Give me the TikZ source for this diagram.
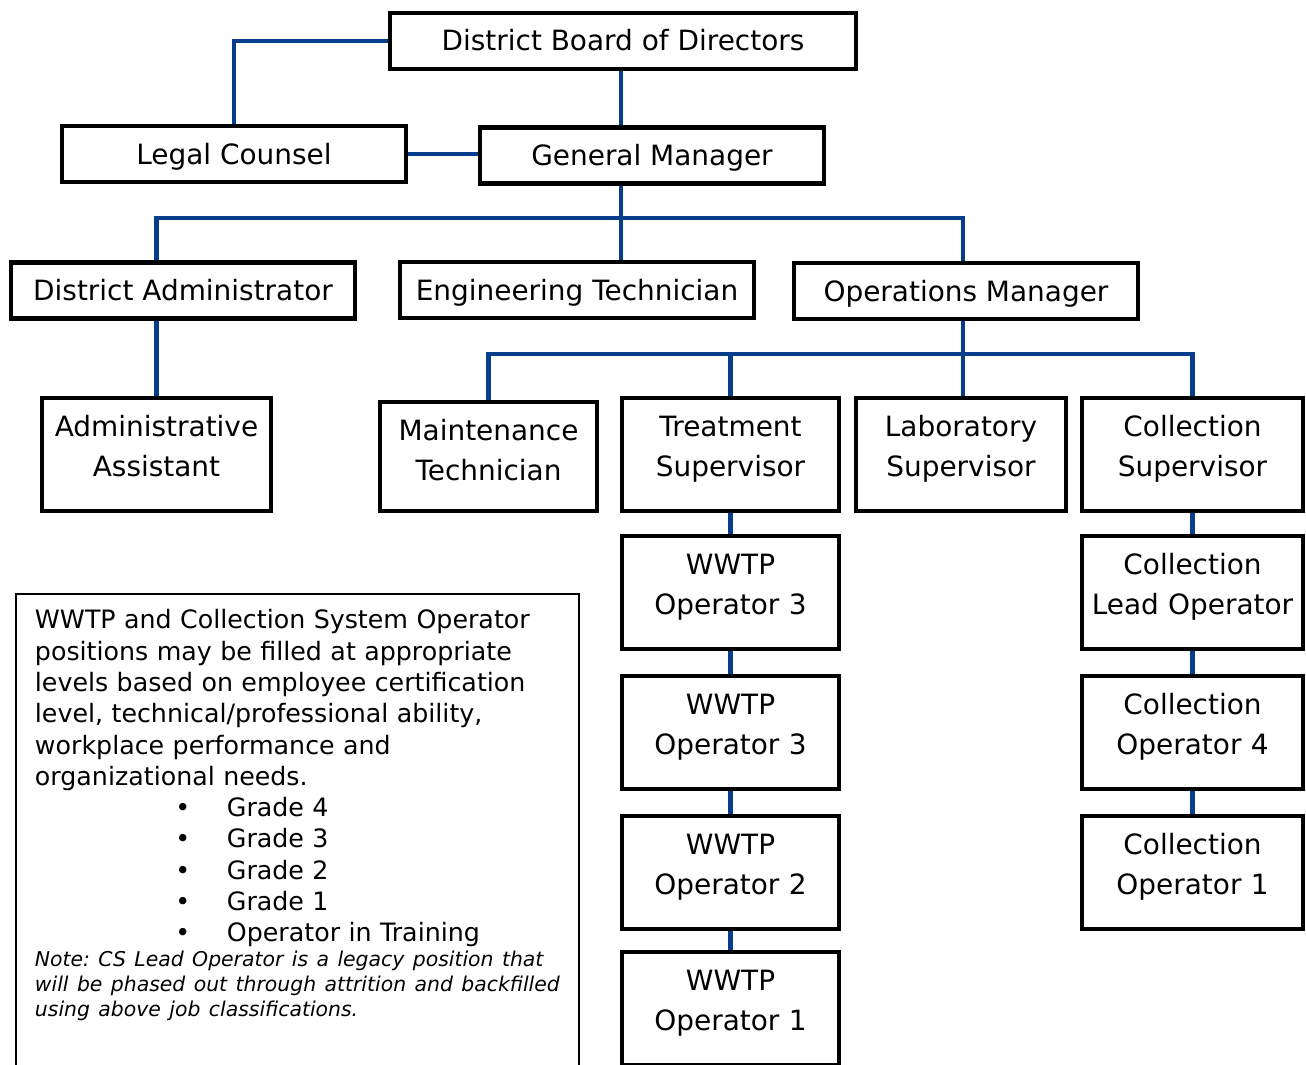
\documentclass[tikz,border=0pt]{standalone}
\usepackage{fontspec}
\setmainfont{DejaVu Sans}
\usepackage{tikz}

\definecolor{linkblue}{RGB}{6,62,140}
\newcommand{\boxfont}{\fontsize{15.9pt}{22.8pt}\selectfont}
\newcommand{\notefont}{\fontsize{14.4pt}{17.8pt}\selectfont}
\newcommand{\notesmall}{\fontsize{11.6pt}{14.2pt}\selectfont}
\newcommand{\gradeitem}[1]{\hspace*{2.81cm}\makebox[1.03cm][l]{\textbullet}#1}

\tikzset{
  orgbox/.style={draw, line width=2.5pt, fill=white, font=\boxfont, inner sep=0pt},
  onebox/.style={orgbox, minimum height=1.12cm, text height=0.4cm, text depth=0pt},
  twobox/.style={orgbox, align=center, text width=4.1cm, text height=0.44cm, text depth=1.18cm, inner ysep=0.32cm},
  link/.style={draw=linkblue, line width=2.8pt},
  notebox/.style={draw, line width=1.1pt, align=left, font=\notefont, text width=10.5cm, inner xsep=0.38cm, inner ysep=0.32cm, text height=0.38cm, text depth=8.6cm}
}

\begin{document}
\begin{tikzpicture}[x=0.02cm, y=-0.02cm]
        \useasboundingbox (0,0) rectangle (1306,1065);
        % top levels
        \node[onebox, minimum width=9.31cm] (board) at (623,41) {District Board of Directors};
        \node[onebox, minimum width=6.87cm] (legal) at (234,154) {Legal Counsel};
        \node[onebox, minimum width=6.87cm] (gm) at (652,155.5) {General Manager};
        \node[onebox, minimum width=6.87cm] (dadmin) at (183,290.5) {District Administrator};
        \node[onebox, minimum width=7.07cm] (engtech) at (577,290) {Engineering Technician};
        \node[onebox, minimum width=6.87cm] (opsmgr) at (966,291) {Operations Manager};
        % supervisors
        \node[twobox, minimum width=4.57cm] (admasst) at (156.5,454.5) {Administrative\\Assistant};
        \node[twobox, minimum width=4.33cm, text depth=1.1cm] (mainttech) at (488.5,456.5) {Maintenance\\Technician};
        \node[twobox, minimum width=4.33cm] (treatsup) at (730.5,454.5) {Treatment\\Supervisor};
        \node[twobox, minimum width=4.19cm] (labsup) at (961,454.5) {Laboratory\\Supervisor};
        \node[twobox, minimum width=4.41cm] (collsup) at (1192.5,454.5) {Collection\\Supervisor};
        % operators
        \node[twobox, minimum width=4.33cm] (wwtp3a) at (730.5,592.5) {WWTP\\Operator 3};
        \node[twobox, minimum width=4.33cm] (wwtp3b) at (730.5,732.5) {WWTP\\Operator 3};
        \node[twobox, minimum width=4.33cm] (wwtp2) at (730.5,872.5) {WWTP\\Operator 2};
        \node[twobox, minimum width=4.33cm] (wwtp1) at (730.5,1008.5) {WWTP\\Operator 1};
        \node[twobox, minimum width=4.41cm] (colllead) at (1192.5,592.5) {Collection\\Lead Operator};
        \node[twobox, minimum width=4.41cm] (collop4) at (1192.5,732.5) {Collection\\Operator 4};
        \node[twobox, minimum width=4.41cm] (collop1) at (1192.5,872.5) {Collection\\Operator 1};
        % note
        \node[notebox, anchor=north west] (note) at (15,593) {WWTP and Collection System Operator\\
            positions may be filled at appropriate\\
            levels based on employee certification\\
            level, technical/professional ability,\\
            workplace performance and\\
            organizational needs.\\
            \gradeitem{Grade 4}\\
            \gradeitem{Grade 3}\\
            \gradeitem{Grade 2}\\
            \gradeitem{Grade 1}\\
            \gradeitem{Operator in Training}\par
            {\notesmall\itshape\frenchspacing\hyphenpenalty=10000 Note: CS Lead Operator is a legacy position that\\
            will be phased out through attrition and backfilled\\
            using above job classifications.\par}};
        % connectors
        \coordinate (gmbus) at (621,218);
        \coordinate (opsbus) at (963,354);
        \draw[link] (board.west) -| (legal.north);
        \draw[link] (legal.east) -- (legal.east -| gm.west);
        \draw[link] (board.south -| gmbus) -- (gm.north -| gmbus);
        \draw[link] (gm.south -| gmbus) -- (gmbus);
        \draw[link] (dadmin.north -| admasst.north) |- (gmbus) -| (opsmgr.north -| opsbus);
        \draw[link] (gmbus) -- (gmbus |- engtech.north);
        \draw[link] (admasst.north) -- (admasst.north |- dadmin.south);
        \draw[link] (opsmgr.south -| opsbus) -- (opsbus);
        \draw[link] (mainttech.north) |- (opsbus) -| (collsup.north);
        \draw[link] (opsbus) -- (opsbus |- labsup.north);
        \draw[link] (treatsup.north) -- (treatsup.north |- opsbus);
        \draw[link] (treatsup.south) -- (wwtp3a.north);
        \draw[link] (wwtp3a.south) -- (wwtp3b.north);
        \draw[link] (wwtp3b.south) -- (wwtp2.north);
        \draw[link] (wwtp2.south) -- (wwtp1.north);
        \draw[link] (collsup.south) -- (colllead.north);
        \draw[link] (colllead.south) -- (collop4.north);
        \draw[link] (collop4.south) -- (collop1.north);
    \end{tikzpicture}
\end{document}
